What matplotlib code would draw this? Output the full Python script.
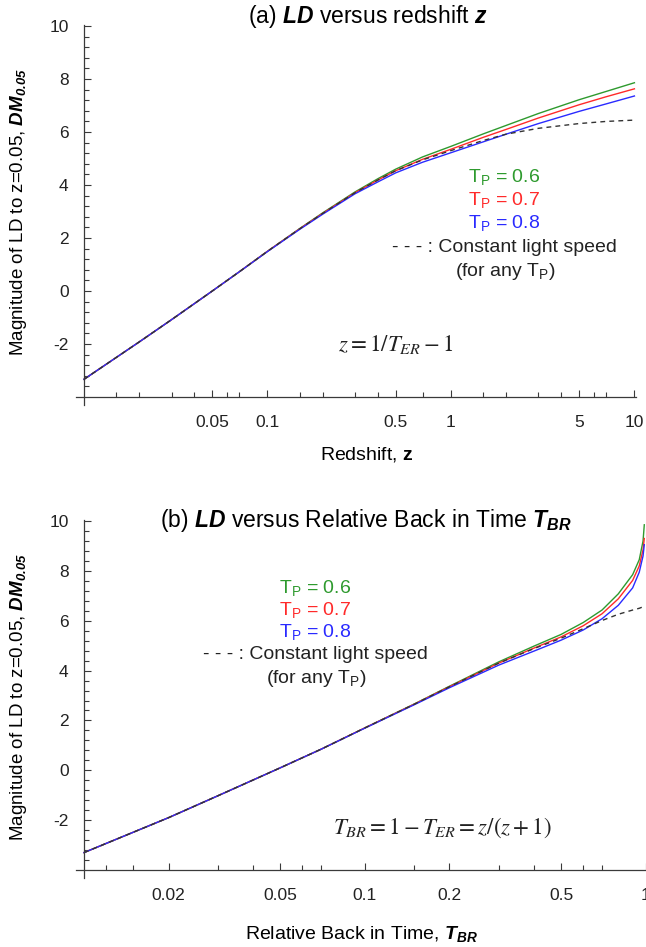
import numpy as np
import matplotlib
matplotlib.use("Agg")
import matplotlib.pyplot as plt
from matplotlib.ticker import FixedLocator, NullFormatter, FixedFormatter

plt.rcParams["font.family"] = ["Liberation Sans", "DejaVu Sans"]
plt.rcParams["mathtext.fontset"] = "custom"
plt.rcParams["mathtext.rm"] = "Liberation Sans"
plt.rcParams["mathtext.it"] = "Liberation Sans:italic"
plt.rcParams["mathtext.bf"] = "Liberation Sans:bold"
plt.rcParams["mathtext.bfit"] = "Liberation Sans:italic:bold"

# ---- (a) distance modulus versus redshift z ----
z_vals = [0.01, 0.02, 0.03, 0.05, 0.07, 0.1, 0.15, 0.2, 0.3, 0.4, 0.5, 0.7, 1.0, 1.5, 2.0, 3.0, 5.0, 7.0, 10.0]
dm_z_tp06 = [-3.33, -1.92, -1.08, 0.0, 0.72, 1.50, 2.36, 2.95, 3.74, 4.24, 4.60, 5.06, 5.46, 5.93, 6.25, 6.70, 7.22, 7.53, 7.86]
dm_z_tp07 = [-3.33, -1.92, -1.08, 0.0, 0.72, 1.50, 2.35, 2.93, 3.71, 4.19, 4.54, 4.97, 5.35, 5.80, 6.10, 6.53, 7.03, 7.33, 7.63]
dm_z_tp08 = [-3.33, -1.92, -1.08, 0.0, 0.72, 1.49, 2.33, 2.90, 3.67, 4.12, 4.46, 4.86, 5.22, 5.63, 5.92, 6.32, 6.78, 7.06, 7.36]
dm_z_const = [-3.33, -1.92, -1.08, 0.0, 0.72, 1.50, 2.35, 2.93, 3.71, 4.19, 4.54, 4.95, 5.30, 5.68, 5.92, 6.14, 6.32, 6.40, 6.45]

# ---- (b) distance modulus versus relative back-in-time T_BR ----
tbr_vals = [0.01, 0.02, 0.03, 0.05, 0.07, 0.1, 0.15, 0.2, 0.3, 0.4, 0.5, 0.6, 0.7, 0.8, 0.9, 0.95, 0.98, 0.99]
dm_t_tp06 = [-3.30, -1.90, -1.02, 0.10, 0.85, 1.70, 2.66, 3.37, 4.35, 4.98, 5.45, 5.93, 6.43, 7.08, 7.85, 8.45, 9.20, 9.85]
dm_t_tp07 = [-3.30, -1.90, -1.02, 0.10, 0.85, 1.70, 2.65, 3.35, 4.30, 4.90, 5.35, 5.80, 6.28, 6.88, 7.62, 8.20, 8.85, 9.30]
dm_t_tp08 = [-3.30, -1.90, -1.02, 0.10, 0.85, 1.69, 2.63, 3.31, 4.22, 4.78, 5.22, 5.63, 6.08, 6.62, 7.32, 7.95, 8.60, 9.05]
dm_t_const = [-3.30, -1.90, -1.02, 0.10, 0.85, 1.70, 2.65, 3.35, 4.30, 4.88, 5.30, 5.68, 6.01, 6.26, 6.43, 6.50, 6.56, 6.60]

series_labels = ["0.6", "0.7", "0.8"]
series_colors = ["#2e9a2e", "#ff2a2a", "#2a2aff"]

z_major = [0.05, 0.1, 0.5, 1, 5, 10]
z_major_labels = ["0.05", "0.1", "0.5", "1", "5", "10"]
z_minor = [0.015, 0.02, 0.03, 0.04, 0.06, 0.07, 0.15, 0.2, 0.3, 0.4, 0.7, 1.5, 2, 3, 4, 6, 7]
t_major = [0.02, 0.05, 0.1, 0.2, 0.5, 1]
t_major_labels = ["0.02", "0.05", "0.1", "0.2", "0.5", "1"]
t_minor = [0.012, 0.015, 0.03, 0.04, 0.06, 0.07, 0.15, 0.3, 0.4, 0.6, 0.7]
y_major = [-2, 0, 2, 4, 6, 8, 10]

W, H = 646, 947
fig = plt.figure(figsize=(W / 100, H / 100), dpi=100)

AXIS_COLOR = "#3a3a3a"


def add_axes_px(x0_px, x1_px, ytop_px, ybot_px):
    return fig.add_axes([x0_px / W, 1 - ybot_px / H, (x1_px - x0_px) / W, (ybot_px - ytop_px) / H])


def style_axes(ax, xmin, xmax, ymin, ymax, xmaj, xlab, xmin_ticks):
    ax.set_xscale("log")
    ax.set_xlim(xmin, xmax)
    ax.set_ylim(ymin, ymax)
    for s in ["top", "right"]:
        ax.spines[s].set_visible(False)
    ax.spines["left"].set_position(("data", 0.01))
    ax.spines["bottom"].set_position(("data", -4))
    for s in ["left", "bottom"]:
        ax.spines[s].set_color(AXIS_COLOR)
        ax.spines[s].set_linewidth(0.9)
    ax.xaxis.set_major_locator(FixedLocator(xmaj))
    ax.xaxis.set_major_formatter(FixedFormatter(xlab))
    ax.xaxis.set_minor_locator(FixedLocator(xmin_ticks))
    ax.xaxis.set_minor_formatter(NullFormatter())
    ax.yaxis.set_major_locator(FixedLocator(y_major))
    ax.yaxis.set_major_formatter(FixedFormatter([str(v) for v in y_major]))
    ym = [round(v, 1) for v in np.arange(-3.6, 10.0, 0.4) if abs(v / 2 - round(v / 2)) > 1e-6]
    ax.yaxis.set_minor_locator(FixedLocator(ym))
    ax.tick_params(which="both", direction="in", color=AXIS_COLOR, width=0.8,
                   labelsize=12.5, labelcolor="#222222")
    ax.tick_params(which="major", length=5.2)
    ax.tick_params(which="minor", length=3.3)
    ax.tick_params(axis="x", which="major", pad=13)
    ax.tick_params(axis="y", which="major", pad=11)
    ax.patch.set_alpha(0)


# Panel (a)
ax1 = add_axes_px(76, 636, 24.7, 405)
style_axes(ax1, 10 ** (-2 - 8 / 183.3), 10.2, -4.3, 10.05, z_major, z_major_labels, z_minor)
for vals, c in zip([dm_z_tp06, dm_z_tp07, dm_z_tp08], series_colors):
    ax1.plot(z_vals, vals, color=c, lw=1.0, clip_on=False)
ax1.plot(z_vals, dm_z_const, color="#333333", lw=1.0, ls=(0, (3.5, 3)), clip_on=False)

# Panel (b)
ax2 = add_axes_px(76, 646, 519.8, 877.5)
style_axes(ax2, 10 ** (-2 - 8 / 280), 1.004, -4.3, 10.05, t_major, t_major_labels, t_minor)
for vals, c in zip([dm_t_tp06, dm_t_tp07, dm_t_tp08], series_colors):
    ax2.plot(tbr_vals, vals, color=c, lw=1.0, clip_on=False)
ax2.plot(tbr_vals, dm_t_const, color="#333333", lw=1.0, ls=(0, (3.5, 3)), clip_on=False)


def ftext(x_px, y_px, s, **kw):
    fig.text(x_px / W, 1 - y_px / H, s, ha="center", va="center", **kw)


# Titles
ftext(368, 17, r"(a) $\mathbfit{LD}$ versus redshift $\mathbfit{z}$", fontsize=16.5)
ftext(366, 520, r"(b) $\mathbfit{LD}$ versus Relative Back in Time $\mathbfit{T_{BR}}$", fontsize=16.5)

# Axis labels
ylab = r"Magnitude of LD to z=0.05, $\mathbfit{DM_{0.05}}$"
ftext(19, 212, ylab, fontsize=13.5, rotation=90)
ftext(19, 697, ylab, fontsize=13.5, rotation=90)
ftext(367, 455, r"Redshift, $\mathbf{z}$", fontsize=14)
ftext(362, 934, r"Relative Back in Time, $\mathbfit{T_{BR}}$", fontsize=14)

# Legend texts
for i, (lab, c) in enumerate(zip(series_labels, series_colors)):
    ftext(504, 177 + 23 * i, r"T$_{\mathrm{P}}$ = " + lab, fontsize=14, color=c)
    ftext(315, 588 + 22 * i, r"T$_{\mathrm{P}}$ = " + lab, fontsize=14, color=c)
ftext(504, 248, "- - - : Constant light speed", fontsize=14, color="#222222")
ftext(505, 271, r"(for any T$_{\mathrm{P}}$)", fontsize=14, color="#222222")
ftext(315, 654, "- - - : Constant light speed", fontsize=14, color="#222222")
ftext(316, 678, r"(for any T$_{\mathrm{P}}$)", fontsize=14, color="#222222")

# Relations between redshift and time
ftext(396, 345, r"$z = 1/T_{ER} - 1$", fontsize=16.5, math_fontfamily="stix", color="#222222")
ftext(442, 828, r"$T_{BR} = 1 - T_{ER} = z/\left(z+1\right)$", fontsize=16.5, math_fontfamily="stix", color="#222222")

fig.savefig("out.png", dpi=100)
